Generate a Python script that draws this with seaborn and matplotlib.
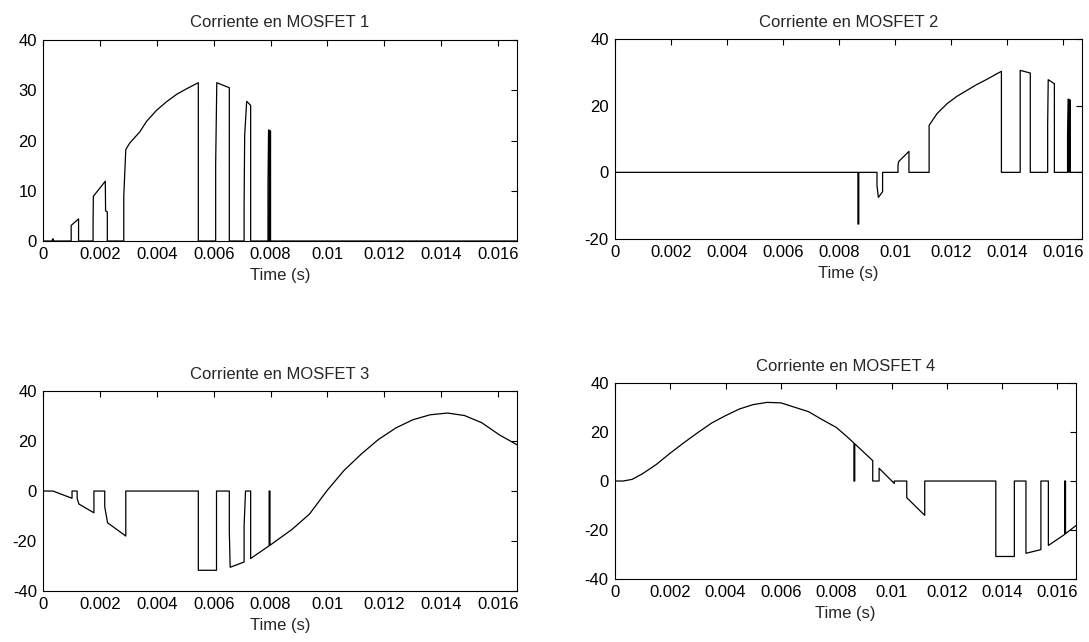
import numpy as np
import pandas as pd
import matplotlib
matplotlib.use("Agg")
import matplotlib.pyplot as plt
import seaborn as sns

t1 = [0, 0.00033, 0.00033, 0.00036, 0.00036, 0.00099, 0.00099, 0.00125, 0.00125,
      0.00176, 0.00176, 0.00177, 0.00219, 0.00220, 0.00226, 0.00226,
      0.00284, 0.00284, 0.00291, 0.00305, 0.00340, 0.00364, 0.00399, 0.00434,
      0.00470, 0.00505, 0.00546, 0.00546, 0.00607, 0.00607, 0.00611, 0.00655,
      0.00655, 0.00707, 0.00707, 0.00709, 0.00716, 0.00730, 0.00730,
      0.00791, 0.00791, 0.00793, 0.00796, 0.00796, 0.00797, 0.00800, 0.00800,
      0.016667]
i1 = [0, 0, 0.4, 0.4, 0, 0, 3.1, 4.4, 0,
      0, 4.0, 8.9, 11.9, 6.0, 5.8, 0,
      0, 9.0, 18.2, 19.5, 21.7, 23.8, 26.0, 27.7,
      29.2, 30.3, 31.5, 0, 0, 15.3, 31.5, 30.5,
      0, 0, 7.0, 21.0, 27.8, 27.0, 0,
      0, 11.0, 22.1, 22.0, 0, 22.0, 21.8, 0,
      0]

t2 = [0, 0.00867, 0.00867, 0.00870, 0.00870, 0.00935, 0.00935, 0.00940, 0.00955,
      0.00955, 0.01010, 0.01010, 0.01012, 0.01049, 0.01049, 0.01121, 0.01121,
      0.01149, 0.01185, 0.01220, 0.01256, 0.01292, 0.01327, 0.01363, 0.01379,
      0.01379, 0.01446, 0.01446, 0.01482, 0.01482, 0.01544, 0.01544, 0.01546,
      0.01568, 0.01568, 0.01615, 0.01615, 0.01617, 0.01620, 0.01620, 0.01622,
      0.01625, 0.01625, 0.016667]
i2 = [0, 0, -15.5, -15.5, 0, 0, -4.0, -7.5, -5.8,
      0, 0, 2.0, 3.2, 6.3, 0, 0, 14.1,
      17.6, 20.6, 22.8, 24.6, 26.4, 27.9, 29.6, 30.3,
      0, 0, 30.6, 29.8, 0, 0, 14.0, 27.8,
      26.6, 0, 0, 11.0, 22.0, 21.8, 0, 21.8,
      21.6, 0, 0]

t3 = [0, 0.00035, 0.00102, 0.00102, 0.00120, 0.00120, 0.00126, 0.00179, 0.00179,
      0.00217, 0.00217, 0.00227, 0.00291, 0.00291, 0.00546, 0.00546, 0.00610,
      0.00610, 0.00655, 0.00655, 0.00658, 0.00707, 0.00707, 0.00712, 0.00730,
      0.00730, 0.00795, 0.00795, 0.00798, 0.00798, 0.00876, 0.00937, 0.00998,
      0.01058, 0.01119, 0.01179, 0.01240, 0.01300, 0.01361, 0.01422, 0.01482,
      0.01543, 0.01604, 0.016667]
i3 = [0, 0, -2.9, 0, 0, -2.9, -5.2, -8.7, 0,
      0, -6.3, -12.7, -18.0, 0, 0, -31.7, -31.7,
      0, 0, -16.0, -30.5, -28.4, -14.0, 0, 0,
      -27.0, -21.9, 0, 0, -21.7, -15.3, -9.2, 0.1,
      8.2, 14.8, 20.6, 25.2, 28.5, 30.5, 31.2, 30.2,
      27.3, 22.5, 18.5]

t4 = [0, 0.00030, 0.000625, 0.00100, 0.00150, 0.00200, 0.00250, 0.00300, 0.00350,
      0.00400, 0.00450, 0.00500, 0.00550, 0.00600, 0.00650, 0.00700, 0.00750,
      0.00800, 0.00838, 0.00864, 0.00864, 0.00867, 0.00867, 0.00932, 0.00932,
      0.00955, 0.00955, 0.01010, 0.01010, 0.01055, 0.01055, 0.01120, 0.01120,
      0.01377, 0.01377, 0.01444, 0.01444, 0.01486, 0.01486, 0.01540, 0.01540,
      0.01567, 0.01567, 0.01626, 0.01626, 0.01629, 0.01629, 0.016667]
i4 = [0, 0, 0.7, 3.0, 6.8, 11.4, 15.7, 19.8, 23.7,
      26.7, 29.4, 31.2, 32.1, 31.9, 30.1, 28.3, 25.0,
      21.9, 18.2, 15.5, 0, 0, 15.2, 8.3, 0,
      0, 5.2, -1.0, 0, 0, -6.8, -14.0, 0,
      0, -30.8, -30.8, 0, 0, -29.5, -28.0, 0,
      0, -26.3, -21.8, 0, 0, -21.5, -18.2]

titulos = ['Corriente en MOSFET 1', 'Corriente en MOSFET 2',
           'Corriente en MOSFET 3', 'Corriente en MOSFET 4']
xticks = [0, 0.002, 0.004, 0.006, 0.008, 0.01, 0.012, 0.014, 0.016]
xtick_labels = ['0', '0.002', '0.004', '0.006', '0.008', '0.01', '0.012', '0.014', '0.016']
yticks = [[0, 10, 20, 30, 40], [-20, 0, 20, 40],
          [-40, -20, 0, 20, 40], [-40, -20, 0, 20, 40]]
ylims = [(0, 40), (-20, 40), (-40, 40), (-40, 40)]

sns.set_theme(style="white")
plt.rcParams['font.family'] = ['Liberation Sans', 'DejaVu Sans']
plt.rcParams['axes.unicode_minus'] = False

fig = plt.figure(figsize=(10.89, 6.42), dpi=100)

# posiciones de los ejes (fracciones de la figura)
posiciones = [[0.0395, 0.6246, 0.4353, 0.3131],
              [0.5647, 0.6277, 0.4289, 0.3115],
              [0.0395, 0.0794, 0.4353, 0.3115],
              [0.5647, 0.0981, 0.4233, 0.3053]]

series = [(t1, i1), (t2, i2), (t3, i3), (t4, i4)]

for k, (tt, ii) in enumerate(series):
    assert len(tt) == len(ii), k
    ax = fig.add_axes(posiciones[k])
    df = pd.DataFrame({'t': tt, 'i': ii})
    sns.lineplot(data=df, x='t', y='i', ax=ax, color='black', linewidth=0.9,
                 estimator=None, sort=False)
    ax.set_xlim(0, 1 / 60)
    ax.set_ylim(*ylims[k])
    ax.set_xticks(xticks)
    ax.set_xticklabels(xtick_labels)
    ax.set_yticks(yticks[k])
    ax.set_yticklabels([str(v) for v in yticks[k]])
    ax.tick_params(direction='in', top=True, right=True, length=4, width=0.8,
                   labelsize=12, colors='black', pad=4.5)
    for s in ax.spines.values():
        s.set_color('black')
        s.set_linewidth(0.8)
    ax.set_title(titulos[k], fontsize=12, pad=9)
    ax.set_xlabel('Time (s)', fontsize=12, labelpad=4)
    ax.set_ylabel('')

fig.savefig('out.png', dpi=100, facecolor='white')
